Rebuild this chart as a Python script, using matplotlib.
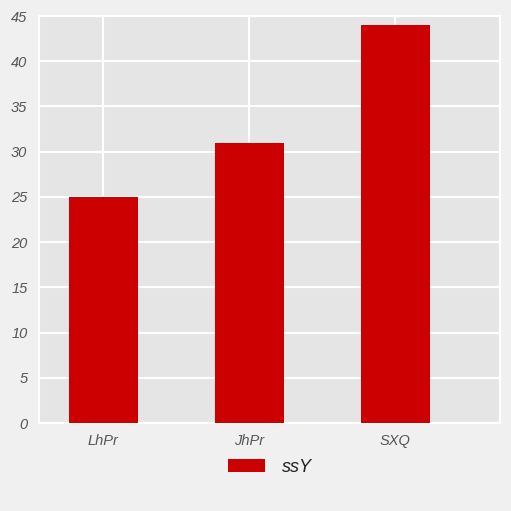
import matplotlib
matplotlib.use("Agg")
import matplotlib.pyplot as plt
from matplotlib.patches import Patch

categories = ["LhPr", "JhPr", "SXQ"]
values = [25, 31, 44]
series_name = "ssY"
yticks = [0, 5, 10, 15, 20, 25, 30, 35, 40, 45]

plt.rcParams['font.family'] = ['Liberation Sans', 'DejaVu Sans']

fig = plt.figure(figsize=(5.11, 5.11), dpi=100, facecolor='#f0f0f0')
ax = fig.add_axes([38.5/511, 1-423/511, (500-38.5)/511, (423-16)/511])
ax.set_facecolor('#e5e5e5')
x = list(range(len(categories)))
ax.bar(x, values, width=0.475, color='#cc0000', zorder=3)
ax.set_xlim(-0.445, 2.716)
ax.set_ylim(0, 45)
ax.set_yticks(yticks)
ax.set_xticks(x)
ax.set_xticklabels(categories)
ax.grid(True, color='white', linewidth=1.5, zorder=1)
ax.set_axisbelow(True)
for s in ax.spines.values():
    s.set_color('white')
    s.set_linewidth(1.5)
ax.tick_params(length=0, labelsize=10.5, labelcolor='#555555')
ax.tick_params(axis='x', pad=8)
ax.tick_params(axis='y', pad=8)
for lbl in ax.get_xticklabels() + ax.get_yticklabels():
    lbl.set_fontstyle('italic')

handle = Patch(facecolor='#cc0000', edgecolor='none')
leg = fig.legend([handle], [series_name], loc='center', bbox_to_anchor=(270/511, 1-467/511),
                 frameon=False, prop={'style': 'italic', 'size': 13}, handlelength=2.05,
                 handleheight=0.75, handletextpad=0.9)
for t in leg.get_texts():
    t.set_color('#222222')

fig.savefig('out.png', dpi=100, facecolor=fig.get_facecolor())
